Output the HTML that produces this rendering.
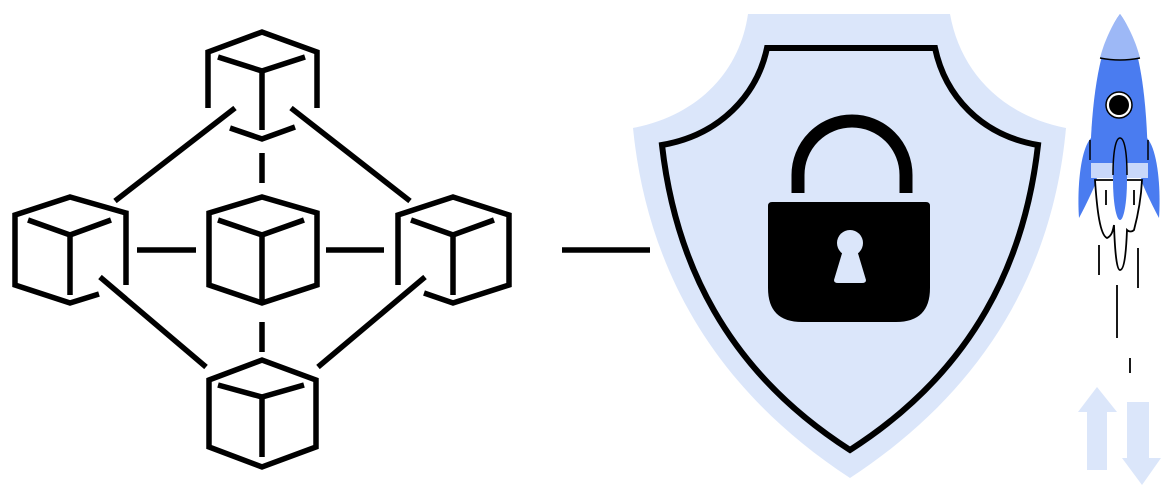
<!DOCTYPE html>
<html><head><meta charset="utf-8"><style>html,body{margin:0;padding:0;background:#fff}svg{display:block}</style></head>
<body>
<svg width="1174" height="500" viewBox="0 0 1174 500" xmlns="http://www.w3.org/2000/svg">
<g fill="none" stroke="#000" stroke-width="5.5" stroke-linejoin="miter">
<path d="M208,108 V52 L262,32 L317,52 V108"/>
<path d="M218,57 L262,71 L305,57"/>
<path d="M262,71 V130"/>
<path d="M230,128 L262,139 L295,127"/>
<path d="M126,285 V213 L70,197 L15,215 V285 L70,303 L99,294"/>
<path d="M28,220 L70,235 L111,220"/>
<path d="M70,235 V295"/>
<path d="M209,213 L262,197 L317,213 V285 L262,303 L209,285 Z"/>
<path d="M218,220 L262,235 L304,220"/>
<path d="M262,235 V303"/>
<path d="M398,285 V215 L453,197 L509,215 V285 L453,303 L424,293"/>
<path d="M411,220 L453,235 L494,220"/>
<path d="M453,235 V295"/>
<path d="M209,380 L262,360 L316,380 V447 L262,467 L209,447 Z"/>
<path d="M218,385 L262,397 L304,385"/>
<path d="M262,397 V457"/>
<path d="M235,108 L115,201"/>
<path d="M291,108 L410,201"/>
<path d="M262,153 V183"/>
<path d="M137,250 H196"/>
<path d="M326,250 H384"/>
<path d="M262,322 V352"/>
<path d="M100,277 L206,367"/>
<path d="M425,277 L318,367"/>
<path d="M562,250 H650"/>
</g>
<path d="M748,14 H950 C960,70 1000,115 1066,128 C1055,250 1000,380 850,478 C700,380 645,250 633,128 C700,115 740,70 748,14 Z" fill="#dbe6fa"/>
<path d="M767,48 H935 C945,95 980,135 1038,145 C1025,260 975,370 850,450 C725,370 675,260 662,145 C720,135 757,95 767,48 Z" fill="none" stroke="#000" stroke-width="6"/>
<path d="M798,193 V175 A52,52 0 0 1 906,175 V193" fill="none" stroke="#000" stroke-width="13"/>
<path d="M772,202 H926 Q930,202 930,206 V288 Q930,322 896,322 H802 Q768,322 768,288 V206 Q768,202 772,202 Z" fill="#000"/>
<circle cx="850" cy="243" r="13" fill="#dbe6fa"/>
<path d="M843,250 H857 L866,280 Q866,283 862,283 H838 Q834,283 834,280 Z" fill="#dbe6fa"/>
<path d="M1091,138 C1080,150 1077,190 1079,218 C1086,205 1093,190 1097,180 Z" fill="#4a7cf0"/>
<path d="M1147,138 C1158,150 1161,190 1159,218 C1152,205 1145,190 1141,180 Z" fill="#4a7cf0"/>
<path d="M1095,180 C1097,210 1100,235 1107,238 C1112,236 1113,230 1114,225 C1115,255 1117,270 1120,270 C1124,270 1126,255 1127,230 C1129,232 1132,232 1134,230 C1138,215 1141,200 1142,180 Z" fill="#fff" stroke="#000" stroke-width="1.8"/>
<path d="M1120,14 C1100,40 1090,100 1090,178 H1148 C1148,100 1140,40 1120,14 Z" fill="#4a7cf0"/>
<path d="M1120,14 C1112,25 1104,42 1100,58 Q1120,62 1140,58 C1136,42 1128,25 1120,14 Z" fill="#9db8f6"/>
<path d="M1100,58 Q1120,62 1140,58" fill="none" stroke="#000" stroke-width="1.5"/>
<rect x="1091" y="163" width="57" height="15" fill="#c9d8fa"/>
<path d="M1090,140 V160 M1148,140 V160" stroke="#000" stroke-width="1.5"/>
<ellipse cx="1120" cy="180" rx="7" ry="40" fill="#4a7cf0"/>
<path d="M1113,175 C1113,150 1116,138 1120,138 C1124,138 1127,150 1127,175" fill="none" stroke="#000" stroke-width="1.5"/>
<circle cx="1119" cy="105" r="13" fill="#fff" stroke="#000" stroke-width="1.5"/>
<circle cx="1119" cy="105" r="10" fill="#000"/>
<g stroke="#000" stroke-width="1.8">
<path d="M1106,190 V205 M1134,190 V205 M1099,245 V275 M1138,248 V288 M1117,285 V338 M1130,358 V373"/>
</g>
<path d="M1097,387 L1117,412 H1107 V470 H1087 V412 H1078 Z" fill="#dbe6fa"/>
<path d="M1127,402 H1149 V458 H1161 L1142,485 L1122,458 H1127 Z" fill="#dbe6fa"/>
</svg>
</body></html>
